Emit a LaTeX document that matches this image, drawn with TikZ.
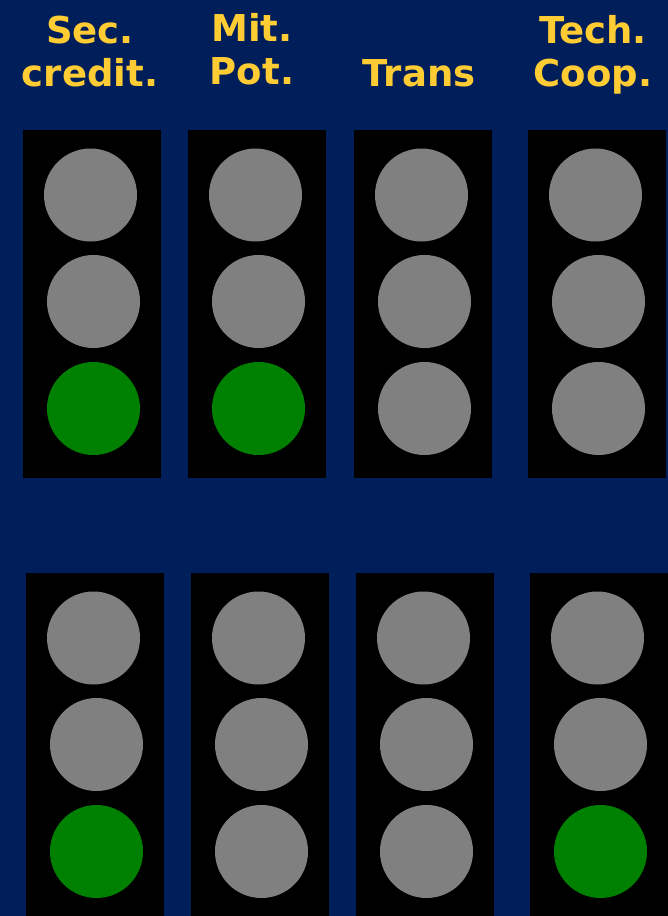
\documentclass[tikz,border=0pt]{standalone}
\usepackage{fontspec}
\setmainfont{DejaVu Sans}
\usepackage{tikz}
\definecolor{fondo}{HTML}{001E5A}
\definecolor{amarillo}{HTML}{FFCC33}
\definecolor{gris}{HTML}{808080}
\definecolor{verde}{HTML}{008000}

\begin{document}
\begin{tikzpicture}[x=1pt,y=-1pt,
    caja/.style={fill=black,minimum width=138pt,minimum height=348pt,inner sep=0pt,anchor=north west},
    luz/.style={circle,fill=#1,minimum size=93pt,inner sep=0pt},
    titulo/.style={text=amarillo,font=\bfseries\fontsize{37}{43}\selectfont,align=center,anchor=base}]
  % fondo
  \fill[fondo] (0,0) rectangle (668,916);
  \useasboundingbox (0,0) rectangle (668,916);
  \clip (0,0) rectangle (668,916);
  % titulos
  \node[titulo] (t1) at (90,86) {Sec.\\credit.};
  \node[titulo] (t2) at (252,84) {Mit.\\Pot.};
  \node[titulo] (t3) at (419,86) {Trans};
  \node[titulo] (t4) at (593,86) {Tech.\\Coop.};
  % semaforos
  \foreach \n/\x/\y/\a/\b/\c in {
      a1/23/130/gris/gris/verde, a2/188/130/gris/gris/verde,
      a3/354/130/gris/gris/gris, a4/528/130/gris/gris/gris,
      b1/26/573/gris/gris/verde, b2/191/573/gris/gris/gris,
      b3/356/573/gris/gris/gris, b4/530/573/gris/gris/verde}{
    \node[caja] (caja\n) at (\x,\y) {};
    \node[luz=\a] (\n-1) at (\x+67.5,\y+65) {};
    \node[luz=\b] (\n-2) at (\x+70.5,\y+171.5) {};
    \node[luz=\c] (\n-3) at (\x+70.5,\y+278.5) {};
  }
\end{tikzpicture}
\end{document}
